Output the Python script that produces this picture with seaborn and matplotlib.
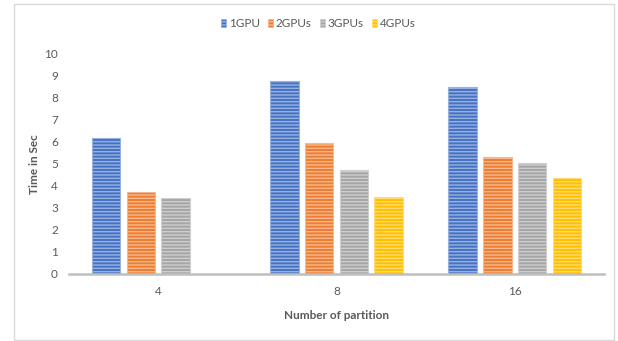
import numpy as np
import pandas as pd
import matplotlib
matplotlib.use("Agg")
import matplotlib.pyplot as plt
from matplotlib.patches import Patch, Rectangle
from matplotlib.colors import to_rgb
import seaborn as sns

# Execution time per partition count and GPU count
partitions = ["4", "8", "16"]
series = ["1GPU", "2GPUs", "3GPUs", "4GPUs"]
time_1gpu = [6.18, 8.75, 8.47]
time_2gpu = [3.70, 5.95, 5.32]
time_3gpu = [3.46, 4.71, 5.03]
time_4gpu = [np.nan, 3.47, 4.34]
colors = ["#4472C4", "#ED7D31", "#A5A5A5", "#FFC000"]

values = [time_1gpu, time_2gpu, time_3gpu, time_4gpu]
df = pd.DataFrame(
    [(p, s, v) for s, vals in zip(series, values) for p, v in zip(partitions, vals)],
    columns=["partition", "gpus", "time"],
)

sns.set_theme(style="white")
plt.rcParams["font.family"] = ["Lato", "DejaVu Sans"]
plt.rcParams["hatch.linewidth"] = 1.0
text_color = "#595959"


def tint(c, amount=0.45):
    r, g, b = to_rgb(c)
    return (r + (1 - r) * amount, g + (1 - g) * amount, b + (1 - b) * amount)


fig = plt.figure(figsize=(6.18, 3.41), dpi=100)
ax = fig.add_axes([0.1117, 0.1965, 0.9773 - 0.1117, 0.8437 - 0.1965])

sns.barplot(
    data=df, x="partition", y="time", hue="gpus",
    order=partitions, hue_order=series, palette=colors,
    saturation=1, width=0.78, gap=0.18, errorbar=None,
    legend=False, ax=ax,
)

# Striped fill with a light outline on every bar
for container, c in zip(ax.containers, colors):
    for bar in container:
        bar.set_hatch("-----")
        bar.set_edgecolor(tint(c))
        bar.set_linewidth(0.8)

ax.set_ylim(0, 10)
ax.set_yticks(range(0, 11))
ax.set_xlim(-0.5, 2.5)
for side in ("left", "top", "right"):
    ax.spines[side].set_visible(False)
ax.spines["bottom"].set_color("#BFBFBF")
ax.spines["bottom"].set_linewidth(1.8)
ax.tick_params(axis="both", length=0, labelsize=8.5, colors=text_color)
ax.tick_params(axis="y", pad=8)
ax.tick_params(axis="x", pad=9)

ax.set_ylabel("Time in Sec", fontsize=8.5, fontweight="bold", color=text_color, labelpad=3)
ax.set_xlabel("Number of partition", fontsize=8.5, fontweight="bold", color=text_color, labelpad=9)

handles = [
    Patch(facecolor=c, edgecolor=tint(c), hatch="-----", linewidth=0.5)
    for c in colors
]
fig.legend(
    handles, series, loc="center", bbox_to_anchor=(0.515, 0.93), ncol=4,
    frameon=False, fontsize=8.5, handlelength=0.45, handleheight=0.7,
    handletextpad=0.2, columnspacing=0.7, labelcolor=text_color,
)

# Chart area border
fig.patches.append(Rectangle(
    (14 / 618, 1.5 / 341), 600 / 618, 336 / 341, transform=fig.transFigure,
    fill=False, edgecolor="#D9D9D9", linewidth=1.0,
))

fig.savefig("out.png", dpi=100)
